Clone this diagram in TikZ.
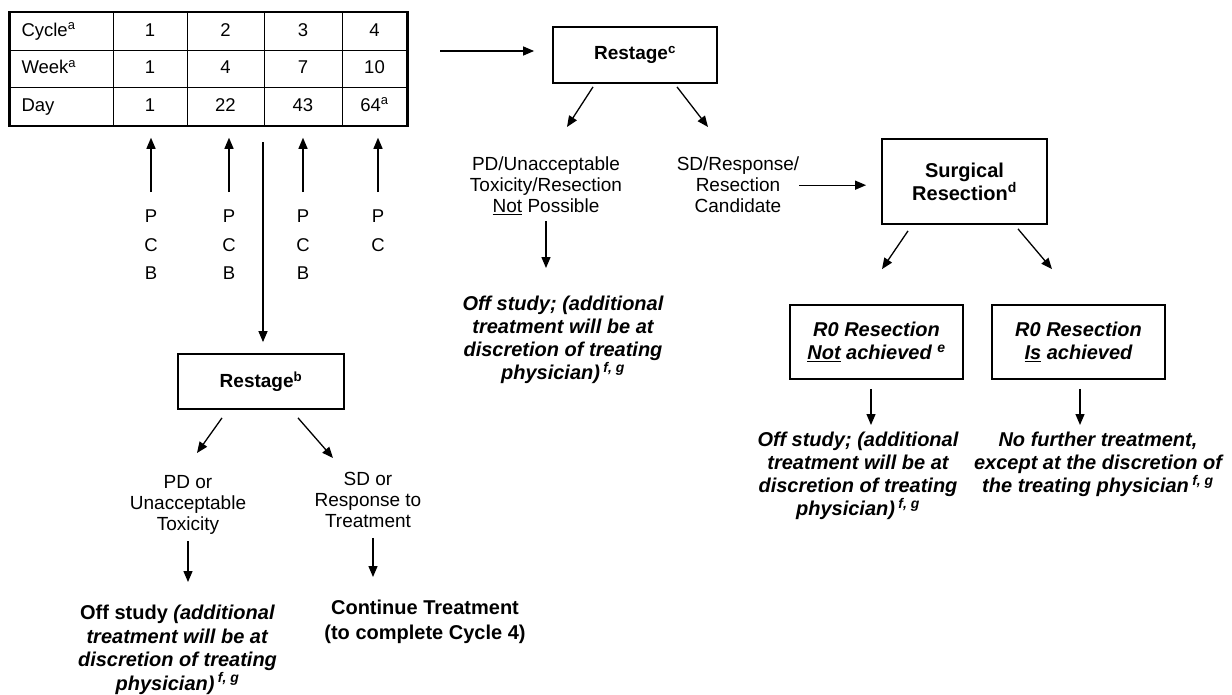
\documentclass[tikz,border=0pt]{standalone}
\usepackage{fontspec}
\setmainfont{Liberation Sans}
\usetikzlibrary{arrows.meta, positioning}

\begin{document}
\begin{tikzpicture}[x=1pt, y=-1pt,
  arr/.style={-{Triangle[length=11pt,width=9pt]}, line width=1.3pt},
  cell/.style={draw, line width=1pt, minimum height=37.5pt, inner sep=0pt,
    text height=13pt, text depth=3.5pt, font=\fontsize{18.5}{21}\selectfont},
  stage/.style={draw, line width=1.8pt, align=center, inner sep=0pt,
    font=\fontsize{19}{21}\selectfont\bfseries},
  note/.style={anchor=north, align=center, inner sep=0pt, font=\fontsize{19}{21}\selectfont},
  off/.style={anchor=north, align=center, inner sep=0pt, font=\fontsize{20}{23.5}\selectfont\bfseries},
  offi/.style={off, font=\fontsize{20}{23}\selectfont\bfseries\itshape},
  drug/.style={anchor=north, align=center, inner sep=0pt, font=\fontsize{18.5}{28.5}\selectfont}]

\useasboundingbox (0,0) rectangle (1232,694);

% schedule table
\node[cell, minimum width=103pt, text width=80pt, align=left] (cyc0) at (61.5,31.5) {Cycle\textsuperscript{a}};
\node[cell, minimum width=103pt, text width=80pt, align=left] (wk0) at (61.5,69) {Week\textsuperscript{a}};
\node[cell, minimum width=103pt, text width=80pt, align=left] (day0) at (61.5,106.5) {Day};
\foreach \i/\x/\w/\wk/\d in {1/150/74/1/1, 2/225.5/77/4/22, 3/303/78/7/43, 4/374.5/65/10/{64\textsuperscript{a}}} {
  \node[cell, minimum width=\w pt] (cyc\i) at (\x,31.5) {\i};
  \node[cell, minimum width=\w pt] (wk\i) at (\x,69) {\wk};
  \node[cell, minimum width=\w pt] (day\i) at (\x,106.5) {\d};
}
\draw[line width=2.2pt] (cyc0.north west) rectangle (day4.south east);

% drugs given each cycle
\node[drug] (pcb1) at (151,210) {P\\C\\B};
\node[drug] (pcb2) at (229,210) {P\\C\\B};
\node[drug] (pcb3) at (303,210) {P\\C\\B};
\node[drug] (pc4) at (378,210) {P\\C};
\foreach \n in {pcb1,pcb2,pcb3,pc4}
  \draw[arr, shorten >=12pt] ([yshift=18pt]\n.north) -- (\n.north |- day1.south);

% restage after cycle 2
\coordinate (split) at (263,142);
\node[stage, minimum width=166pt, minimum height=55pt] (restb) at (261,381.5) {Restage\textsuperscript{b}};
\draw[arr, shorten >=11pt] (split) -- (split |- restb.north);

\node[note] (pdb) at (188,475) {PD or\\Unacceptable\\Toxicity};
\node[note] (sdb) at (368,472) {SD or\\Response to\\Treatment};
\node[off] (offb) at (177.5,605) {Off study \textit{(additional}\\\textit{treatment will be at}\\\textit{discretion of treating}\\\textit{physician)}\,\textsuperscript{\textit{f, g}}};
\node[off, font=\fontsize{20}{25}\selectfont\bfseries] (contb) at (425,600) {Continue Treatment\\(to complete Cycle 4)};

\draw[arr] ([xshift=-39pt,yshift=-8pt]restb.south) -- ([xshift=9pt,yshift=22pt]pdb.north);
\draw[arr] ([xshift=37pt,yshift=-8pt]restb.south) -- ([xshift=-35pt,yshift=14pt]sdb.north);
\draw[arr, shorten <=7pt, shorten >=23pt] (pdb.south) -- (pdb.south |- offb.north);
\draw[arr, shorten <=10pt, shorten >=23pt] ([xshift=5pt]sdb.south) -- ([xshift=5pt]sdb.south |- contb.north);

% restage after cycle 4
\node[stage, minimum width=164pt, minimum height=56pt] (restc) at (635,55) {Restage\textsuperscript{c}};
\coordinate (tabout) at (440,51);
\draw[arr, shorten >=18pt] (tabout) -- (tabout -| restc.west);

\node[note] (pdc) at (546,157) {PD/Unacceptable\\Toxicity/Resection\\\underline{Not} Possible};
\node[note] (sdc) at (738,157) {SD/Response/\\Resection\\Candidate};
\node[offi] (offc) at (563,296) {Off study; (additional\\treatment will be at\\discretion of treating\\physician)\,\textsuperscript{f, g}};

\draw[arr] ([xshift=-42pt,yshift=-3pt]restc.south) -- ([xshift=21pt,yshift=30pt]pdc.north);
\draw[arr] ([xshift=42pt,yshift=-3pt]restc.south) -- ([xshift=-30pt,yshift=30pt]sdc.north);
\draw[arr, shorten <=6pt, shorten >=28pt] (pdc.south) -- (pdc.south |- offc.north);

% surgery
\node[stage, font=\fontsize{20}{21}\selectfont\bfseries, minimum width=165pt, minimum height=85pt] (surg) at (964.5,181.5) {Surgical\\Resection\textsuperscript{d}};
\draw[arr, shorten >=15pt] (sdc.east) -- (sdc.east -| surg.west);

\node[stage, font=\fontsize{20}{23}\selectfont\bfseries\itshape, minimum width=173pt, minimum height=74pt] (r0a) at (876.5,342) {R0 Resection\\\underline{Not} achieved \textsuperscript{e}};
\node[stage, font=\fontsize{20}{23}\selectfont\bfseries\itshape, minimum width=173pt, minimum height=74pt] (r0b) at (1078.5,342) {R0 Resection\\\underline{Is} achieved};

\draw[arr] ([xshift=-56.5pt,yshift=-6pt]surg.south) -- ([xshift=5.5pt,yshift=35pt]r0a.north);
\draw[arr] ([xshift=53.5pt,yshift=-4pt]surg.south) -- ([xshift=-26.5pt,yshift=35pt]r0b.north);

\node[offi] (offd) at (858,432) {Off study; (additional\\treatment will be at\\discretion of treating\\physician)\,\textsuperscript{f, g}};
\node[offi] (nofur) at (1098,432) {No further treatment,\\except at the discretion of\\the treating physician\,\textsuperscript{f, g}};

\draw[arr, shorten <=9pt, shorten >=7pt] ([xshift=-5.5pt]r0a.south) -- ([xshift=-5.5pt]r0a.south |- offd.north);
\draw[arr, shorten <=9pt, shorten >=7pt] ([xshift=1.5pt]r0b.south) -- ([xshift=1.5pt]r0b.south |- nofur.north);
\end{tikzpicture}
\end{document}
